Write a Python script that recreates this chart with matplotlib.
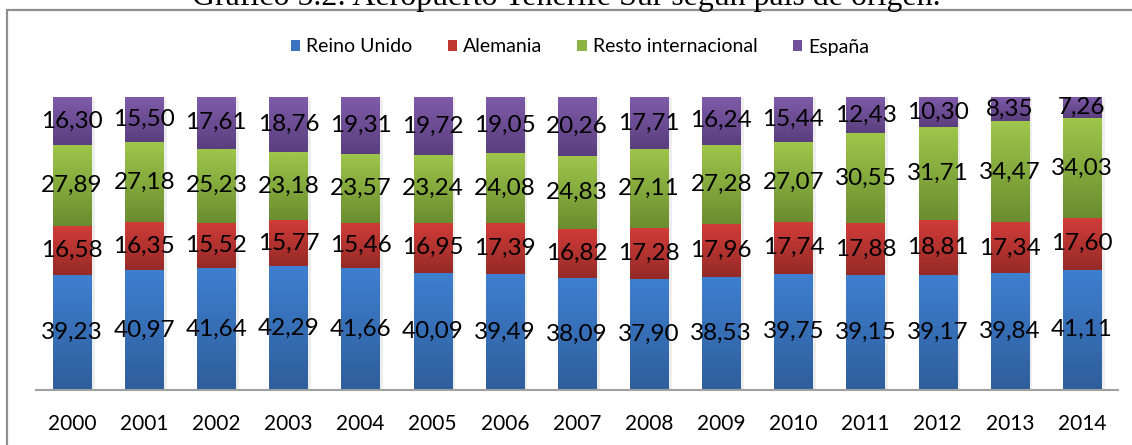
import numpy as np
import matplotlib
matplotlib.use("Agg")
import matplotlib.pyplot as plt
from matplotlib.patches import Patch, Rectangle
from matplotlib.colors import to_rgb
import matplotlib.patheffects as pe

years = ["2000", "2001", "2002", "2003", "2004", "2005", "2006", "2007",
         "2008", "2009", "2010", "2011", "2012", "2013", "2014"]
series_names = ["Reino Unido", "Alemania", "Resto internacional", "España"]
reino_unido = [39.23, 40.97, 41.64, 42.29, 41.66, 40.09, 39.49, 38.09,
               37.90, 38.53, 39.75, 39.15, 39.17, 39.84, 41.11]
alemania = [16.58, 16.35, 15.52, 15.77, 15.46, 16.95, 17.39, 16.82,
            17.28, 17.96, 17.74, 17.88, 18.81, 17.34, 17.60]
resto = [27.89, 27.18, 25.23, 23.18, 23.57, 23.24, 24.08, 24.83,
         27.11, 27.28, 27.07, 30.55, 31.71, 34.47, 34.03]
espana = [16.30, 15.50, 17.61, 18.76, 19.31, 19.72, 19.05, 20.26,
          17.71, 16.24, 15.44, 12.43, 10.30, 8.35, 7.26]
title = "Gráfico 5.2: Aeropuerto Tenerife Sur según país de origen."

series = [reino_unido, alemania, resto, espana]
top_colors = ["#3e7fd0", "#d13c38", "#9ec64b", "#7f5ba9"]
bot_colors = ["#2f5e9b", "#952a27", "#6a8d2f", "#5a3e7e"]
legend_colors = ["#3a74c0", "#c0362f", "#8db442", "#70509a"]

W, H = 1132, 445
fig = plt.figure(figsize=(W / 100, H / 100), dpi=100)
plt.rcParams['font.family'] = ['Lato', 'DejaVu Sans']

# chart frame
fig.patches.append(Rectangle((7 / W, -0.1), 1.2, 1 - 10 / H + 0.1,
                             transform=fig.transFigure, fill=False,
                             edgecolor="#8e8e8e", linewidth=1.6, zorder=0))

ax_l, ax_r, ax_b, ax_t = 36, 1118, 390, 97
ax = fig.add_axes([ax_l / W, (H - ax_b) / H, (ax_r - ax_l) / W, (ax_b - ax_t) / H])
ax.set_facecolor("none")

x = np.arange(len(years))
bottom = np.zeros(len(years))
bar_w = 0.53
for vals, tc, bc in zip(series, top_colors, bot_colors):
    vals = np.array(vals)
    bars = ax.bar(x, vals, bar_w, bottom=bottom, color=bc, linewidth=0, zorder=2)
    for b in bars:
        b.set_path_effects([pe.SimplePatchShadow(offset=(2.5, -1), shadow_rgbFace="#c8c8c8", alpha=0.3),
                            pe.Normal()])
        x0, y0, w, h = b.get_x(), b.get_y(), b.get_width(), b.get_height()
        t = np.linspace(0, 1, 64)[:, None]
        c_top = np.array(to_rgb(tc))
        c_bot = np.array(to_rgb(bc))
        grad = c_bot[None, :] * (1 - t) + c_top[None, :] * t
        ax.imshow(grad[:, None, :], extent=[x0, x0 + w, y0, y0 + h],
                  origin="lower", aspect="auto", zorder=3, interpolation="bilinear")
    for xi, bi, v in zip(x, bottom, vals):
        ax.text(xi, bi + v / 2, f"{v:.2f}".replace(".", ","), ha="center", va="center",
                fontsize=17.5, color="black", zorder=5)
    bottom += vals

ax.set_xlim(-0.5, len(years) - 0.5)
ax.set_ylim(0, 100)
ax.set_xticks(x)
ax.set_xticklabels(years, fontsize=15)
ax.tick_params(axis="x", length=0, pad=17)
ax.set_yticks([])
for s in ["left", "right", "top"]:
    ax.spines[s].set_visible(False)
ax.spines["bottom"].set_color("#a0a0a0")
ax.spines["bottom"].set_linewidth(1.5)
ax.spines["bottom"].set_zorder(6)

handles = [Patch(facecolor=c, edgecolor="none") for c in legend_colors]
fig.legend(handles, series_names, loc="center", bbox_to_anchor=(580 / W, 1 - 47 / H),
           ncol=4, frameon=False, fontsize=14, handlelength=0.5, handleheight=0.5,
           handletextpad=0.3, columnspacing=1.8)

# title (partly clipped at top, as in the reference)
tt = fig.text(566 / W, 1 - 5 / H, title, ha="center", va="baseline",
              fontsize=20, family=["Liberation Serif", "DejaVu Serif"])
fig.canvas.draw()
ext = tt.get_window_extent()
tt.set_fontsize(20 * 747 / ext.width)

fig.savefig("out.png", dpi=100)
